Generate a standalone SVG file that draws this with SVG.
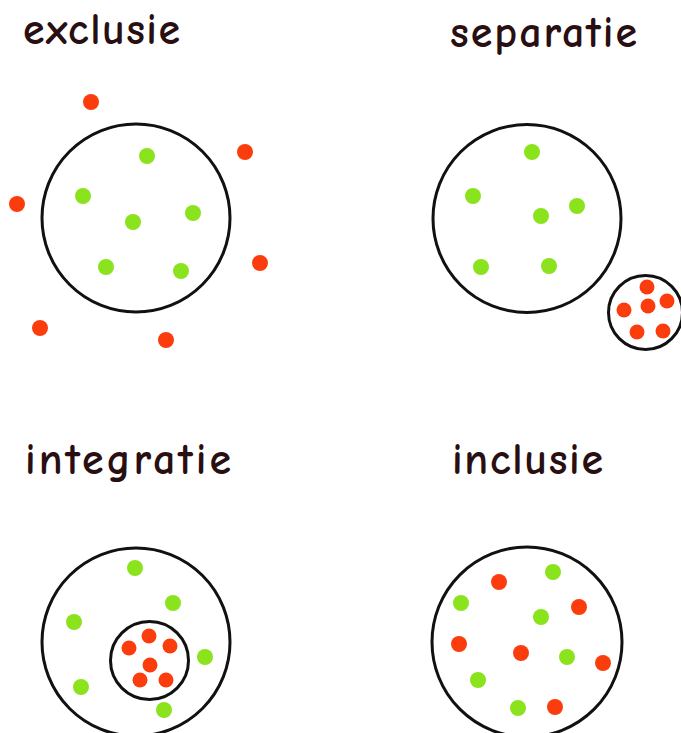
<svg xmlns="http://www.w3.org/2000/svg" width="681" height="733" viewBox="0 0 681 733">
<style>
.ring{fill:none;stroke:#111;stroke-width:3}
.g{fill:#8ae31c}
.r{fill:#fb3d0e}
.t{font-family:"Comic Neue","Liberation Sans",sans-serif;font-size:44px;font-weight:bold;fill:#2a0f12}
</style>
<rect width="681" height="733" fill="#fff"/>
<g id="exclusie">
<text class="t" x="23" y="44" textLength="157" lengthAdjust="spacing">exclusie</text>
<circle class="ring" cx="136" cy="218" r="94"/>
<circle class="g" cx="147" cy="156" r="8"/>
<circle class="g" cx="83" cy="196" r="8"/>
<circle class="g" cx="133" cy="222" r="8"/>
<circle class="g" cx="193" cy="213" r="8"/>
<circle class="g" cx="106" cy="267" r="8"/>
<circle class="g" cx="181" cy="271" r="8"/>
<circle class="r" cx="91" cy="102" r="8"/>
<circle class="r" cx="245" cy="152" r="8"/>
<circle class="r" cx="17" cy="204" r="8"/>
<circle class="r" cx="260" cy="263" r="8"/>
<circle class="r" cx="40" cy="328" r="8"/>
<circle class="r" cx="166" cy="340" r="8"/>
</g>
<g id="separatie">
<text class="t" x="450" y="47" textLength="187" lengthAdjust="spacing">separatie</text>
<circle class="ring" cx="527" cy="218.5" r="94"/>
<circle class="g" cx="532" cy="152" r="8"/>
<circle class="g" cx="473" cy="196" r="8"/>
<circle class="g" cx="541" cy="216" r="8"/>
<circle class="g" cx="577" cy="206" r="8"/>
<circle class="g" cx="481" cy="267" r="8"/>
<circle class="g" cx="549" cy="266" r="8"/>
<circle class="ring" cx="645.5" cy="312.5" r="37"/>
<circle class="r" cx="647" cy="287" r="7.5"/>
<circle class="r" cx="667" cy="301" r="7.5"/>
<circle class="r" cx="648" cy="306" r="7.5"/>
<circle class="r" cx="624" cy="310" r="7.5"/>
<circle class="r" cx="637" cy="332" r="7.5"/>
<circle class="r" cx="663" cy="331" r="7.5"/>
</g>
<g id="integratie">
<text class="t" x="25" y="474" textLength="206" lengthAdjust="spacing">integratie</text>
<circle class="ring" cx="136" cy="642" r="94"/>
<circle class="g" cx="135" cy="568" r="8"/>
<circle class="g" cx="173" cy="603" r="8"/>
<circle class="g" cx="74" cy="622" r="8"/>
<circle class="g" cx="205" cy="657" r="8"/>
<circle class="g" cx="81" cy="687" r="8"/>
<circle class="g" cx="164" cy="710" r="8"/>
<circle class="ring" cx="149.5" cy="660.5" r="39"/>
<circle class="r" cx="149" cy="636" r="7.5"/>
<circle class="r" cx="129" cy="648" r="7.5"/>
<circle class="r" cx="170" cy="646" r="7.5"/>
<circle class="r" cx="150" cy="665" r="7.5"/>
<circle class="r" cx="140" cy="680" r="7.5"/>
<circle class="r" cx="166" cy="680" r="7.5"/>
</g>
<g id="inclusie">
<text class="t" x="452" y="474" textLength="151" lengthAdjust="spacing">inclusie</text>
<circle class="ring" cx="527" cy="642" r="95"/>
<circle class="r" cx="499" cy="582" r="8"/>
<circle class="r" cx="579" cy="607" r="8"/>
<circle class="r" cx="459" cy="644" r="8"/>
<circle class="r" cx="521" cy="653" r="8"/>
<circle class="r" cx="603" cy="663" r="8"/>
<circle class="r" cx="555" cy="707" r="8"/>
<circle class="g" cx="553" cy="572" r="8"/>
<circle class="g" cx="461" cy="603" r="8"/>
<circle class="g" cx="541" cy="617" r="8"/>
<circle class="g" cx="567" cy="657" r="8"/>
<circle class="g" cx="478" cy="680" r="8"/>
<circle class="g" cx="518" cy="708" r="8"/>
</g>
</svg>
